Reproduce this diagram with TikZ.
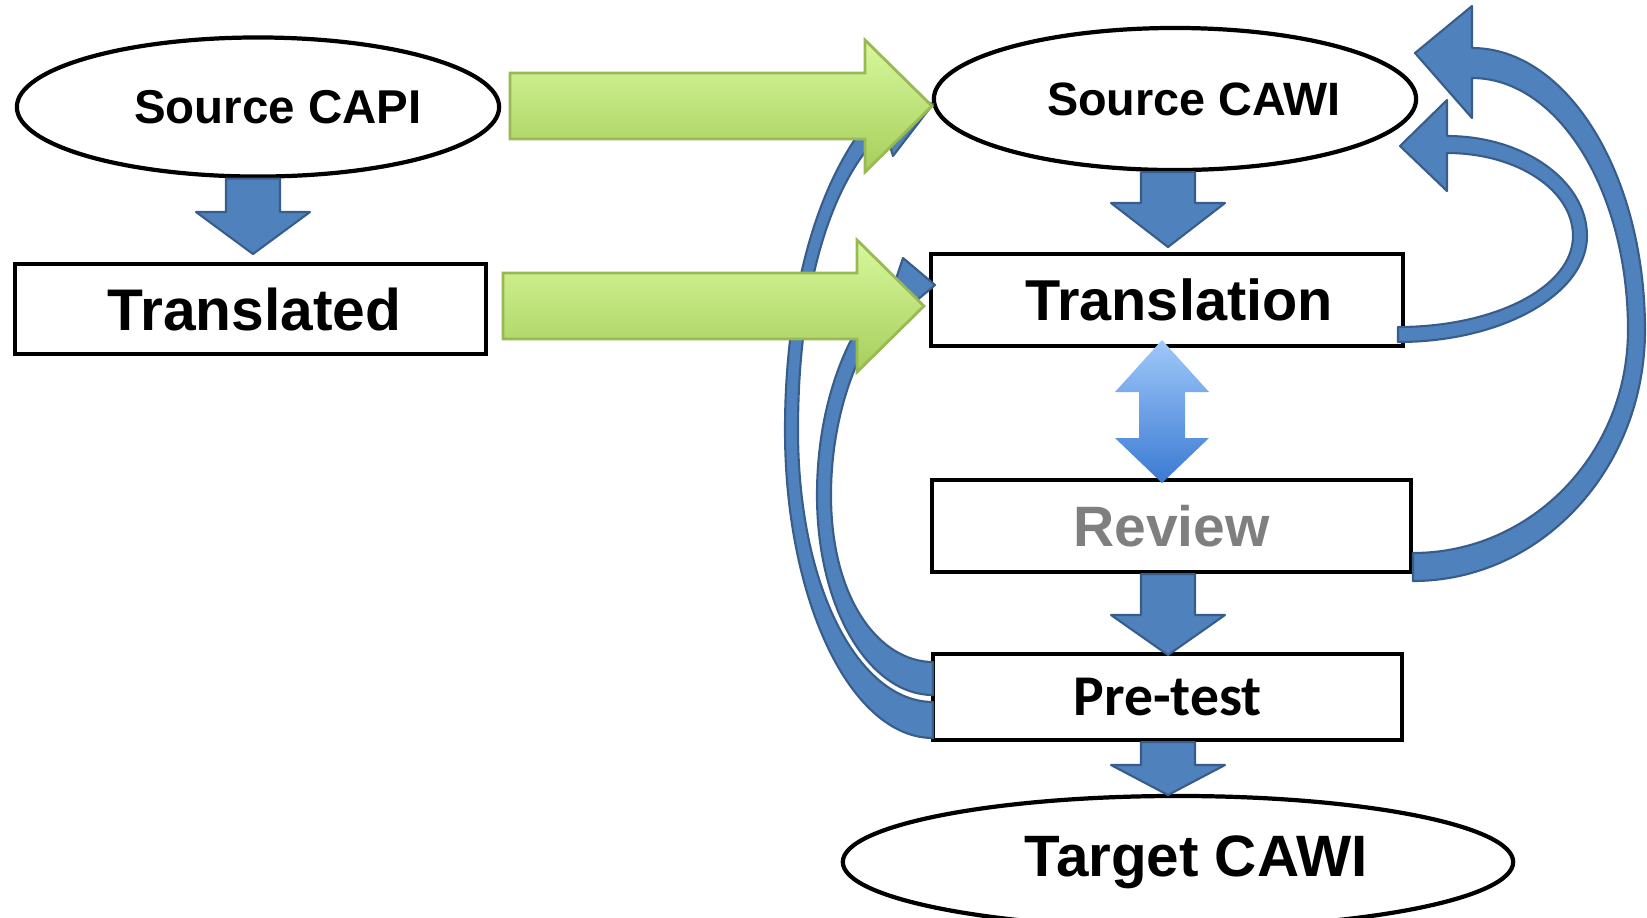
\documentclass[tikz,border=0pt]{standalone}
\usepackage{fontspec}
\setmainfont{Liberation Sans}
\newfontfamily\calibri{Carlito}
\usetikzlibrary{shapes.geometric,calc}

\definecolor{boxblue}{RGB}{79,129,189}
\definecolor{boxblueline}{RGB}{56,93,138}
\definecolor{limetop}{RGB}{216,248,156}
\definecolor{limebot}{RGB}{166,206,92}
\definecolor{limeline}{RGB}{152,185,84}
\definecolor{skytop}{RGB}{160,200,250}
\definecolor{skybot}{RGB}{58,122,210}
\definecolor{greytext}{RGB}{127,127,127}

\tikzset{
  stage/.style={draw, line width=1.2pt, rectangle, inner sep=0pt},
  oval/.style={draw, line width=1.2pt, ellipse, inner sep=0pt},
  bluearrow/.style={fill=boxblue, draw=boxblueline, line width=0.6pt, line join=round},
  % fat arrow pointing down, drawn from the start node down to a tip
  blockdown/.style={bluearrow, to path={
    ($(\tikztotarget |- \tikztostart)+(-27,0)$) -- ($(\tikztotarget)+(-27,-#1)$)
    -- ($(\tikztotarget)+(-57,-#1)$) -- (\tikztotarget) -- ($(\tikztotarget)+(57,-#1)$)
    -- ($(\tikztotarget)+(27,-#1)$) -- ($(\tikztotarget |- \tikztostart)+(27,0)$) -- cycle}},
  blockdown/.default=42,
  % fat arrow pointing right
  limearrow/.style={top color=limetop, bottom color=limebot, draw=limeline, line width=0.8pt,
    line join=miter, to path={
    ($(\tikztostart)+(0,-33)$) -- ($(\tikztotarget)+(-67,-33)$) -- ($(\tikztotarget)+(-67,-66)$)
    -- (\tikztotarget) -- ($(\tikztotarget)+(-67,66)$) -- ($(\tikztotarget)+(-67,33)$)
    -- ($(\tikztostart)+(0,33)$) -- cycle}},
  % arrow with a head at both ends
  twoway/.style={top color=skytop, bottom color=skybot, to path={
    (\tikztostart) -- ($(\tikztostart)+(47,52)$) -- ($(\tikztostart)+(23,52)$)
    -- ($(\tikztotarget)+(23,-45)$) -- ($(\tikztotarget)+(47,-45)$) -- (\tikztotarget)
    -- ($(\tikztotarget)+(-47,-45)$) -- ($(\tikztotarget)+(-23,-45)$)
    -- ($(\tikztostart)+(-23,52)$) -- ($(\tikztostart)+(-47,52)$) -- cycle}},
}

\begin{document}
\begin{tikzpicture}[x=0.01cm, y=-0.01cm]
\useasboundingbox (0,0) rectangle (1647,917);

% left column
\node[oval, minimum width=4.82cm, minimum height=1.39cm, font=\bfseries\fontsize{13.5}{16}\selectfont]
  (capi) at (258,107) {\hspace*{0.4cm}Source CAPI};
\node[stage, minimum width=4.71cm, minimum height=0.90cm, font=\bfseries\fontsize{16.7}{19}\selectfont]
  (transd) at (250.5,309) {\hspace*{0.08cm}Translated};

% right column
\node[oval, minimum width=4.82cm, minimum height=1.42cm, font=\bfseries\fontsize{13.3}{16}\selectfont]
  (cawi) at (1175,99) {\hspace*{0.38cm}Source CAWI};
\node[stage, minimum width=4.72cm, minimum height=0.92cm, font=\bfseries\fontsize{16.4}{19}\selectfont]
  (transl) at (1167,300) {\hspace*{0.24cm}Translation};
\node[stage, minimum width=4.79cm, minimum height=0.92cm, text=greytext, font=\bfseries\fontsize{16.2}{19}\selectfont]
  (review) at (1171.5,526) {Review};
\node[stage, minimum width=4.69cm, minimum height=0.86cm, font=\calibri\bfseries\fontsize{16.4}{19}\selectfont]
  (pretest) at (1167.5,697) {Pre-test};
\node[oval, minimum width=6.70cm, minimum height=1.32cm, font=\bfseries\fontsize{16.6}{19}\selectfont]
  (target) at (1178,862) {\hspace*{0.36cm}\raisebox{-0.05cm}{Target CAWI}};

\coordinate (capitip) at (253,254);
\coordinate (cawitip) at (1168,247);
\coordinate (reviewtip) at (1168,655);
\coordinate (pretesttip) at (1168,795);
\coordinate (uptip) at (1162,340);
\coordinate (downtip) at (1162,483);
\coordinate (capiout) at (510,106);
\coordinate (cawiin) at (932,106);
\coordinate (transdout) at (503,306);
\coordinate (translin) at (924,306);

% loops back on the right
\draw[bluearrow] (1413,581) .. controls (1541,581) and (1645,469) .. (1645,330)
  .. controls (1645,174) and (1567,48) .. (1472,48) -- (1472,6) -- (1415,53) -- (1472,118)
  -- (1472,78) .. controls (1558,78) and (1628,191) .. (1628,330)
  .. controls (1628,453) and (1532,553) .. (1413,553) -- cycle;
\draw[bluearrow] (1398,342) .. controls (1502,342) and (1587,294) .. (1587,236)
  .. controls (1587,181) and (1524,136) .. (1447,136) -- (1447,100) -- (1400,146) -- (1447,191)
  -- (1447,153) .. controls (1517,153) and (1573,190) .. (1573,236)
  .. controls (1573,287) and (1495,327) .. (1398,327) -- cycle;

% loops back on the left
\draw[bluearrow] (933,738) .. controls (851,738) and (785,601) .. (785,430)
  .. controls (785,300) and (815,180) .. (876,112) -- (866,84) -- (933,104) -- (893,156)
  -- (885,130) .. controls (830,180) and (798,290) .. (798,430)
  .. controls (798,590) and (860,702) .. (933,702) -- cycle;
\draw[bluearrow] (933,695) .. controls (870,695) and (817,610) .. (817,495)
  .. controls (817,400) and (850,320) .. (895,282) -- (903,258) -- (935,285) -- (903,312)
  -- (905,296) .. controls (862,330) and (831,410) .. (831,495)
  .. controls (831,600) and (880,662) .. (933,662) -- cycle;

% CAPI -> CAWI
\path[limearrow] (capiout) to (cawiin);
\path[limearrow] (transdout) to (translin);

% steps
\draw[blockdown] (capi.south) to (capitip);
\draw[blockdown=44] (cawi.south) to (cawitip);
\draw[blockdown=40] (review.south) to (reviewtip);
\draw[blockdown=30] (pretest.south) to (pretesttip);
\path[twoway] (uptip) to (downtip);
\end{tikzpicture}
\end{document}
